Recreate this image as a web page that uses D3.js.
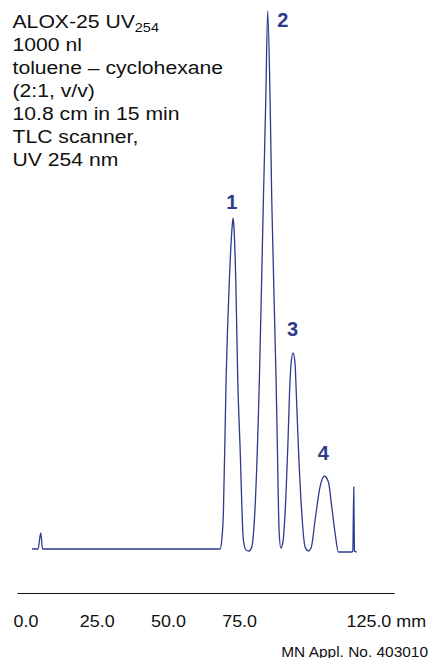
<!DOCTYPE html>
<html>
<head>
<meta charset="utf-8">
<script src="https://cdn.jsdelivr.net/npm/d3@7/dist/d3.min.js"></script>
<style>
  html, body { margin: 0; padding: 0; background: #fff; }
  svg { display: block; }
  text { font-family: "Liberation Sans", Arial, Helvetica, sans-serif; }
</style>
</head>
<body>
<svg id="chart" width="429" height="658"></svg>
<script>
// ---- data ----
const positionMm = [2.28, 4.39, 5.34, 5.97, 68.32, 68.92, 69.48, 70.43, 71.58, 72.6, 72.88, 73.15, 73.83,
  74.53, 75.34, 76.50, 77.45, 78.50, 79.45, 80.37, 82.12, 83.53, 84.37, 85.04, 85.88, 86.47, 87.99,
  88.44, 89.04, 89.64, 90.34, 91.15, 92.10, 92.90, 93.25, 93.96, 94.66, 94.91, 95.82, 97.01, 98.17,
  99.33, 100.28, 101.69, 103.44, 104.95, 106.36, 107.55, 108.71, 109.87, 114.58, 114.93, 115.28,
  115.49, 116.33];
const signal = [0, 0, 2.97, 0, 0, 1.67, 6.69, 31.41, 50.0, 60.2, 61.5, 60.2, 50.0,
  31.41, 18.96, 1.67, -0.19, -0.37, 0.37, 5.39, 31.41, 64.87, 83.5, 100, 83.5, 64.87, 31.41,
  18.96, 3.53, 0.19, 1.12, 6.69, 18.96, 31.41, 34.4, 36.43, 34.4, 31.41, 18.96, 6.69, 0.37,
  -0.37, 0.19, 5.39, 11.6, 13.57, 12.45, 7.81, 2.97, -0.56, -0.56, -0.37, 11.52,
  -0.37, -0.56];
const peakNames = ["1", "2", "3", "4"];
const peakMm = [72.88, 85.04, 93.96, 104.95];
const peakSignal = [61.5, 100, 36.43, 13.57];
const tickValues = [0, 25, 50, 75, 125];
const tickLabels = ["0.0", "25.0", "50.0", "75.0", "125.0 mm"];
const infoLines = ["ALOX-25 UV", "1000 nl", "toluene \u2013 cyclohexane", "(2:1, v/v)", "10.8 cm in 15 min", "TLC scanner,", "UV 254 nm"];
const infoSubscript = "254";
const footnote = "MN Appl. No. 403010";

// ---- drawing ----
const svg = d3.select("#chart");
const traceColor = "#2e3a8c";

const x = d3.scaleLinear().domain([-3, 129.4]).range([17, 394]);
const y = d3.scaleLinear().domain([0, 100]).range([549, 11]);

const pts = positionMm.map((m, i) => [m, signal[i]]);
const line = d3.line().x(d => x(d[0])).y(d => y(d[1])).curve(d3.curveMonotoneX);

svg.append("path")
  .datum(pts)
  .attr("d", line)
  .attr("fill", "none")
  .attr("stroke", traceColor)
  .attr("stroke-width", 1.3)
  .attr("stroke-linejoin", "round");

// peak labels
const labelOffsets = [[-1.2, -8.7], [15.2, 15.7], [-0.6, -17], [-1, -16]];
svg.append("g").selectAll("text")
  .data(peakNames)
  .join("text")
  .attr("x", (d, i) => x(peakMm[i]) + labelOffsets[i][0])
  .attr("y", (d, i) => y(peakSignal[i]) + labelOffsets[i][1])
  .attr("text-anchor", "middle")
  .attr("font-size", 20)
  .attr("font-weight", "bold")
  .attr("fill", traceColor)
  .text(d => d);

// x axis
const axis = d3.axisBottom(x)
  .tickValues(tickValues)
  .tickSize(0)
  .tickSizeOuter(0)
  .tickFormat((d, i) => tickLabels[i]);
const gx = svg.append("g").attr("transform", "translate(0,593)").call(axis);
gx.select(".domain").attr("stroke", "#111").attr("stroke-width", 1.1);
gx.selectAll(".tick text")
  .attr("y", 34)
  .attr("dy", null)
  .attr("font-size", 16)
  .attr("font-family", "Liberation Sans, Arial, sans-serif")
  .attr("fill", "#111")
  .attr("transform", "scale(1.12,1)")
  .each(function (d, i) {
    if (i === tickLabels.length - 1) {
      d3.select(this).attr("text-anchor", "start").attr("x", (346 - x(d)) / 1.12);
    }
  });

// info text block
const info = svg.append("g");
infoLines.forEach((t, i) => {
  const txt = info.append("text")
    .attr("transform", `translate(12.5,${27.5 + i * 23.1}) scale(1.21,1)`)
    .attr("font-size", 17.5)
    .attr("fill", "#111");
  txt.append("tspan").text(t);
  if (i === 0) {
    txt.append("tspan").attr("font-size", 12).attr("dy", 4).text(infoSubscript);
  }
});

// footnote
svg.append("text")
  .attr("transform", "translate(428,656.5) scale(1.03,1)")
  .attr("text-anchor", "end")
  .attr("font-size", 15)
  .attr("fill", "#111")
  .text(footnote);
</script>
</body>
</html>
